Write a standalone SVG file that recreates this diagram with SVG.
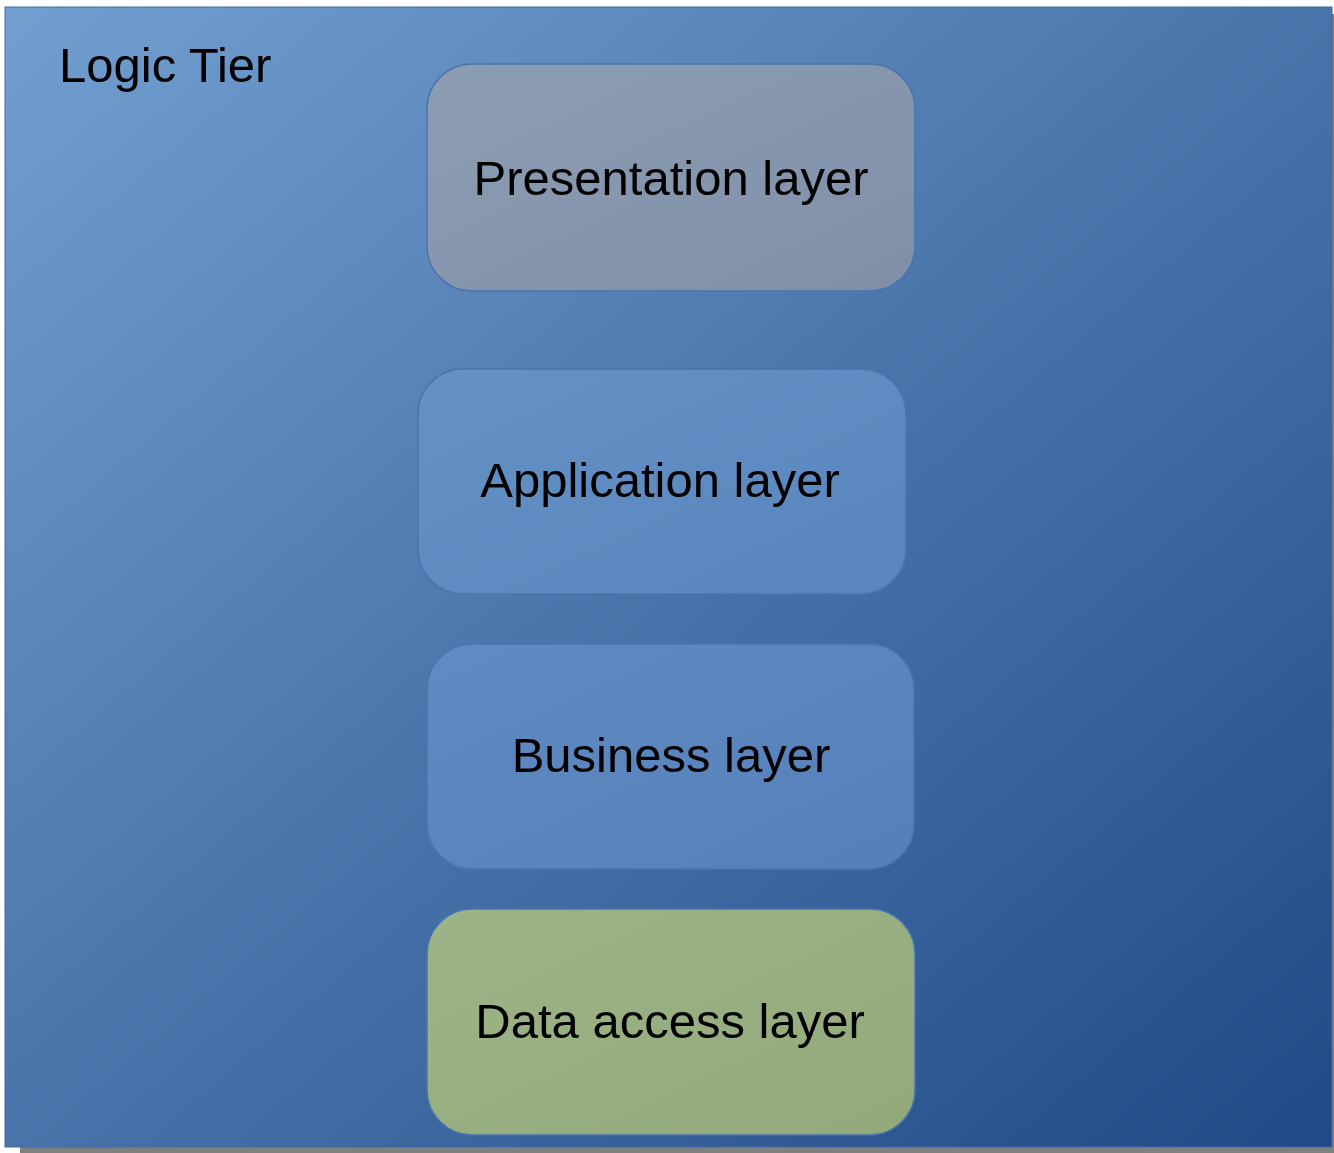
<svg xmlns="http://www.w3.org/2000/svg" width="1334" height="1153" viewBox="0 0 1334 1153">
<style>
.lbl{font-family:"Liberation Sans",Arial,sans-serif;font-size:49px;fill:#000;text-anchor:middle}
.box{stroke:#4a74ad;stroke-width:1.5}
</style>
<defs>
<linearGradient id="bg" x1="0" y1="0" x2="1" y2="1">
<stop offset="0" stop-color="#729fd0"/>
<stop offset="1" stop-color="#204985"/>
</linearGradient>
<linearGradient id="gp" x1="0" y1="0" x2="1" y2="1">
<stop offset="0" stop-color="#8c9db3"/>
<stop offset="1" stop-color="#7f8fa8"/>
</linearGradient>
<linearGradient id="ga" x1="0" y1="0" x2="1" y2="1">
<stop offset="0" stop-color="#6492c6"/>
<stop offset="1" stop-color="#5886bd"/>
</linearGradient>
<linearGradient id="gb" x1="0" y1="0" x2="1" y2="1">
<stop offset="0" stop-color="#5f8bc2"/>
<stop offset="1" stop-color="#557fb8"/>
</linearGradient>
<linearGradient id="gd" x1="0" y1="0" x2="1" y2="1">
<stop offset="0" stop-color="#9cb487"/>
<stop offset="1" stop-color="#93a97c"/>
</linearGradient>
</defs>
<g id="logic-tier">
<rect x="20" y="14" width="1314" height="1139" fill="#808080"/>
<rect x="5" y="7" width="1327" height="1140" fill="url(#bg)" stroke="#3f6aa5" stroke-width="1"/>
<text class="lbl" x="59" y="82" style="text-anchor:start">Logic Tier</text>
</g>
<g id="presentation">
<rect class="box" x="427" y="64" width="488" height="227" rx="45" fill="url(#gp)"/>
<text class="lbl" x="671" y="195">Presentation layer</text>
</g>
<g id="application">
<rect class="box" x="418" y="369" width="488" height="225" rx="45" fill="url(#ga)"/>
<text class="lbl" x="660" y="497">Application layer</text>
</g>
<g id="business">
<rect class="box" x="427" y="644" width="487" height="225" rx="45" fill="url(#gb)"/>
<text class="lbl" x="671" y="772">Business layer</text>
</g>
<g id="data-access">
<rect class="box" x="427" y="909" width="488" height="226" rx="45" fill="url(#gd)" stroke="none"/>
<text class="lbl" x="670" y="1038">Data access layer</text>
</g>
<g id="connectors"/>
</svg>
